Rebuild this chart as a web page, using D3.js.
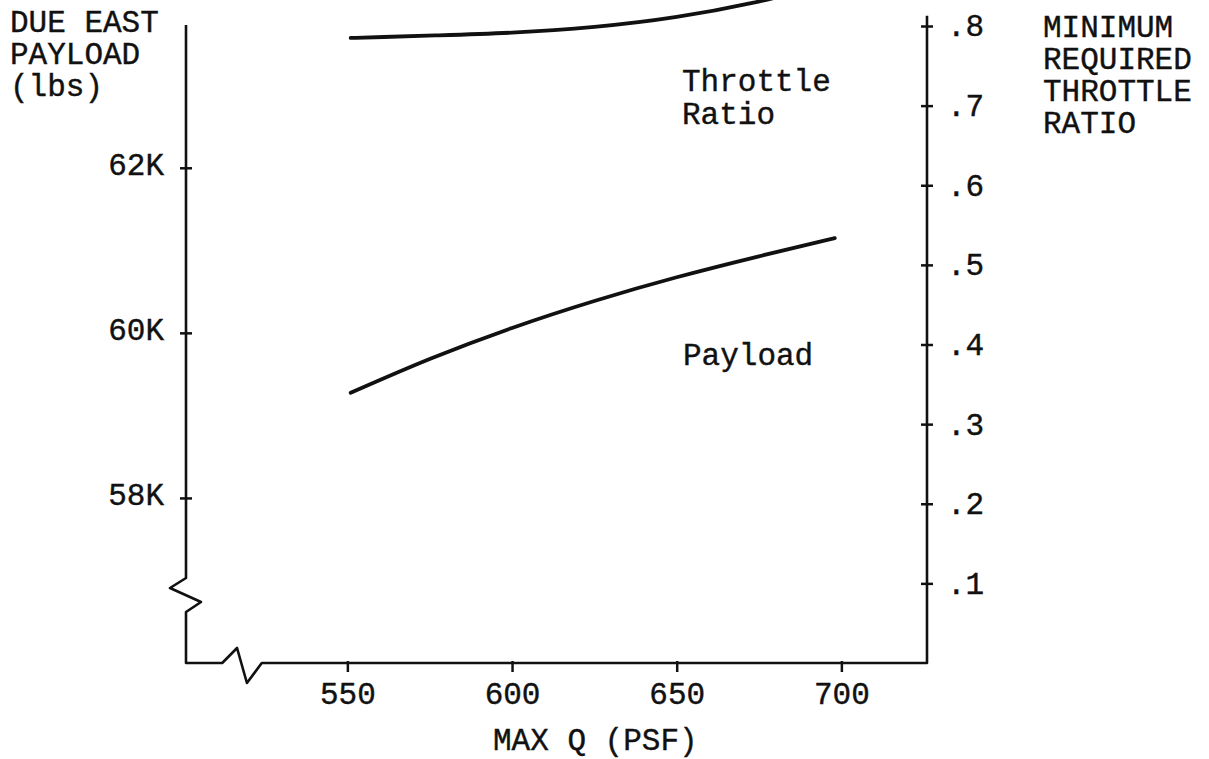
<!DOCTYPE html>
<html>
<head>
<meta charset="utf-8">
<script src="https://cdn.jsdelivr.net/npm/d3@7"></script>
<style>
  body { margin: 0; background: #fff; }
  svg { display: block; }
  text { font-family: "Liberation Mono", "DejaVu Sans Mono", monospace; font-size: 31px; fill: #111; stroke: #111; stroke-width: 0.4px; }
</style>
</head>
<body>
<svg id="chart"></svg>
<script>
// max Q (psf) vs. due east payload (lbs)
var payloadQ = [551, 575, 600, 625, 650, 675, 698];
var payload = [59273, 59693, 60068, 60393, 60680, 60930, 61148];

// max Q (psf) vs. minimum required throttle ratio
var throttleQ = [551, 560, 575, 600, 625, 650, 675, 690];
var throttle = [0.785, 0.786, 0.788, 0.791, 0.798, 0.810, 0.830, 0.846];

var xTicks = [550, 600, 650, 700];
var leftTicks = [58000, 60000, 62000];
var rightTicks = [0.1, 0.2, 0.3, 0.4, 0.5, 0.6, 0.7, 0.8];

var leftTitle = ["DUE EAST", "PAYLOAD", "(lbs)"];
var rightTitle = ["MINIMUM", "REQUIRED", "THROTTLE", "RATIO"];

var width = 1209,
    height = 759;

var svg = d3.select("#chart")
    .attr("width", width)
    .attr("height", height);

var x = d3.scaleLinear().domain([501, 726]).range([186, 927]);
var yL = d3.scaleLinear().domain([56000, 63730]).range([663, 25]);
var yR = d3.scaleLinear().domain([0, 0.8]).range([663, 26]);

var ink = "#111";

// axes, ticks only (domain lines drawn by hand below to get the breaks)
var gx = svg.append("g")
    .attr("transform", "translate(0," + yL.range()[0] + ")")
    .call(d3.axisBottom(x).tickValues(xTicks).tickSize(8).tickPadding(14));

var gl = svg.append("g")
    .attr("transform", "translate(" + x.range()[0] + ",0)")
    .call(d3.axisLeft(yL).tickValues(leftTicks).tickSize(6).tickPadding(16)
        .tickFormat(function(d) { return d / 1000 + "K"; }));

var gr = svg.append("g")
    .attr("transform", "translate(" + x.range()[1] + ",0)")
    .call(d3.axisRight(yR).tickValues(rightTicks).tickSize(6).tickPadding(14)
        .tickFormat(function(d) { return "." + Math.round(d * 10); }));

[gx, gl, gr].forEach(function(g) {
    g.select(".domain").remove();
    g.selectAll(".tick line").attr("stroke", ink).attr("stroke-width", 2.5);
    g.selectAll(".tick text")
        .attr("fill", ink)
        .style("font-family", "'Liberation Mono', monospace")
        .style("font-size", "31px");
});

// ticks cross the axis
gl.selectAll(".tick line").attr("x1", 6).attr("x2", -6);
gr.selectAll(".tick line").attr("x1", -6).attr("x2", 6);
gx.selectAll(".tick line").attr("y1", -2).attr("y2", 9);
gl.selectAll(".tick text").attr("dy", "0.22em");
gr.selectAll(".tick text").attr("dy", "0.32em");
gx.selectAll(".tick text").attr("dy", "0.6em");

var axisLine = d3.line();
var x0 = x.range()[0], x1 = x.range()[1], yb = yL.range()[0];

// axis frame with the two breaks
var lb1 = yL(57030), lb2 = yL(56618);
svg.append("path")
    .attr("d", axisLine([[x0, yL.range()[1]], [x0, lb1], [x0 - 16, lb1 + 10],
        [x0 + 15, lb1 + 24], [x0, lb2], [x0, yb], [x(512), yb],
        [x(516.5), yb - 15], [x(519.5), yb + 20], [x(524), yb], [x1, yb],
        [x1, yR(0.813)]]))
    .attr("fill", "none")
    .attr("stroke", ink)
    .attr("stroke-width", 2.6)
    .attr("stroke-linejoin", "round");

var curve = d3.line().curve(d3.curveBasis);

svg.append("path")
    .attr("d", curve(payloadQ.map(function(q, i) { return [x(q), yL(payload[i])]; })))
    .attr("fill", "none")
    .attr("stroke", ink)
    .attr("stroke-width", 3.8)
    .attr("stroke-linecap", "round");

svg.append("path")
    .attr("d", curve(throttleQ.map(function(q, i) { return [x(q), yR(throttle[i])]; })))
    .attr("fill", "none")
    .attr("stroke", ink)
    .attr("stroke-width", 3.8)
    .attr("stroke-linecap", "round");

// titles and labels
svg.append("g").selectAll("text")
    .data(leftTitle)
    .enter().append("text")
    .attr("x", 10)
    .attr("y", function(d, i) { return 32 + i * 32; })
    .text(function(d) { return d; });

svg.append("g").selectAll("text")
    .data(rightTitle)
    .enter().append("text")
    .attr("x", 1043)
    .attr("y", function(d, i) { return 37 + i * 32; })
    .text(function(d) { return d; });

svg.append("text")
    .attr("x", 493)
    .attr("y", 750)
    .text("MAX Q (PSF)");

svg.append("text").attr("x", 682).attr("y", 91).text("Throttle");
svg.append("text").attr("x", 682).attr("y", 124).text("Ratio");
svg.append("text").attr("x", 683).attr("y", 365).text("Payload");
</script>
</body>
</html>
